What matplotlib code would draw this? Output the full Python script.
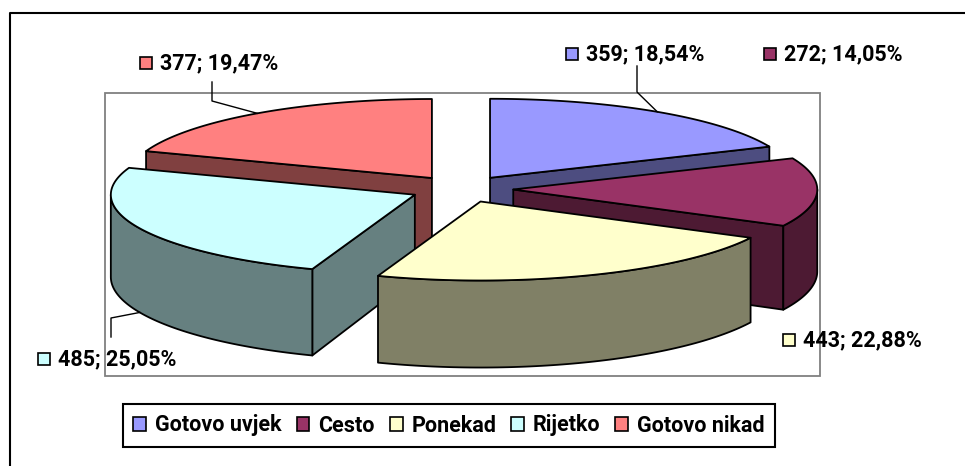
import numpy as np
import matplotlib.pyplot as plt
from matplotlib.patches import Polygon, Rectangle

plt.rcParams['font.family'] = ['Roboto', 'DejaVu Sans']

# data
categories = ['Gotovo uvjek', 'Cesto', 'Ponekad', 'Rijetko', 'Gotovo nikad']
values = [359, 272, 443, 485, 377]
top_colors = ['#9999FF', '#993366', '#FFFFCC', '#CCFFFF', '#FF8080']
side_colors = ['#4D4D80', '#4D1A33', '#808066', '#668080', '#804040']

# layout of the 3d pie (pixel space)
cx, cy = 461.6, 189.0
R, r = 304, 79
depth = 82
persp = 0.05
explode = 0.17

# label anchors: marker left x, centre y ; leader (x, y start, y elbow) or None
label_pos = [(566, 54), (764, 54), (783, 340), (38, 359), (140, 63)]
leaders = [(637, 66, 92), None, None, (111, 337, 318), (212, 82, 101)]


def project(u, v, z):
    s = 1.0 / (1.0 + persp * v)
    return cx + R * u, cy - r * v + z * depth * s


fig = plt.figure(figsize=(9.65, 4.66), dpi=100)
ax = fig.add_axes([0, 0, 1, 1])
ax.set_xlim(0, 965)
ax.set_ylim(466, 0)
ax.axis('off')

# outer chart frame (only left/top are inside the picture)
ax.plot([10, 10, 966], [467, 13, 13], color='black', lw=1.5, solid_capstyle='butt')
# plot area
ax.add_patch(Rectangle((105, 93), 715, 283, fill=False, edgecolor='#808080', lw=1.3, zorder=1))

total = float(sum(values))
slices = []
start = 90.0
for i, v in enumerate(values):
    hi = start
    lo = start - v / total * 360.0
    start = lo
    mid = np.radians((lo + hi) / 2)
    slices.append(dict(i=i, lo=lo, hi=hi, du=explode * np.cos(mid), dv=explode * np.sin(mid)))


def rim(s, deg, z, rad=1.0):
    t = np.radians(deg)
    return project(s['du'] + rad * np.cos(t), s['dv'] + rad * np.sin(t), z)


def draw_poly(pts, fc, z):
    ax.add_patch(Polygon(pts, closed=True, facecolor=fc, edgecolor='black', lw=1.3,
                         joinstyle='round', zorder=z))


# back slices first
order = sorted(slices, key=lambda s: -s['dv'])
for n, s in enumerate(order):
    i, lo, hi = s['i'], s['lo'], s['hi']
    zb = 2 + n * 3
    apex_t = project(s['du'], s['dv'], 0)
    apex_b = project(s['du'], s['dv'], 1)
    # radial faces
    if np.cos(np.radians(lo)) > 1e-6:
        draw_poly([apex_t, rim(s, lo, 0), rim(s, lo, 1), apex_b], side_colors[i], zb)
    if np.cos(np.radians(hi)) < -1e-6:
        draw_poly([apex_t, rim(s, hi, 0), rim(s, hi, 1), apex_b], side_colors[i], zb)
    # outer wall (front half only)
    for shift in (-360, 0, 360):
        a, b = max(lo, -180 + shift), min(hi, shift)
        if b > a:
            th = np.linspace(a, b, 80)
            topc = [rim(s, t, 0) for t in th]
            botc = [rim(s, t, 1) for t in th[::-1]]
            draw_poly(topc + botc, side_colors[i], zb + 1)
    # top face
    th = np.linspace(lo, hi, 120)
    draw_poly([apex_t] + [rim(s, t, 0) for t in th], top_colors[i], zb + 2)

# data labels
for s in slices:
    i = s['i']
    mx, my = label_pos[i]
    pct = values[i] / total * 100
    txt = f"{values[i]}; {pct:.2f}%".replace('.', ',')
    ax.add_patch(Rectangle((mx, my - 6), 12, 12, facecolor=top_colors[i], edgecolor='black',
                           lw=1.2, zorder=30))
    ax.text(mx + 20, my, txt, fontsize=15.5, fontweight='bold', ha='left', va='center', zorder=30)
    if leaders[i] is not None:
        lx, ly0, ly1 = leaders[i]
        mid = (s['lo'] + s['hi']) / 2
        zz = 0 if np.sin(np.radians(mid)) > 0 else 1
        ex, ey = rim(s, mid, zz)
        ax.plot([lx, lx, ex], [ly0, ly1, ey], color='black', lw=1.0, zorder=29)

# legend
handles = [Rectangle((0, 0), 1, 1, facecolor=c, edgecolor='black', lw=1.2) for c in top_colors]
leg = ax.legend(handles, categories, ncol=5, loc='center', bbox_to_anchor=(449, 425.5),
                bbox_transform=ax.transData, frameon=True, fancybox=False, edgecolor='black',
                framealpha=1, handlelength=0.6, handleheight=0.6, handletextpad=0.4,
                columnspacing=0.7, borderpad=0.5, borderaxespad=0,
                prop=dict(weight='bold', size=15.5))
leg.get_frame().set_linewidth(1.5)

fig.savefig('out.png', dpi=100)
